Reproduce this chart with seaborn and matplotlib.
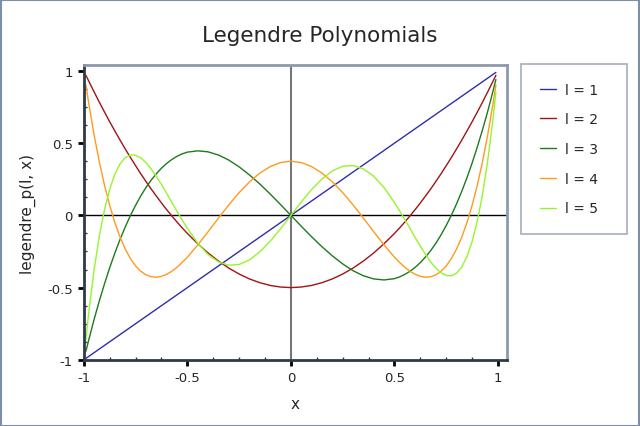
import numpy as np
import pandas as pd
import seaborn as sns
import matplotlib.pyplot as plt
from matplotlib.patches import Rectangle
from matplotlib.ticker import MultipleLocator

# sample points for x >= 0 (finer near the right edge)
x_pos = [0.0, 0.05, 0.1, 0.15, 0.2, 0.25, 0.3, 0.35, 0.4, 0.45, 0.5,
         0.525, 0.55, 0.575, 0.6, 0.625, 0.65, 0.675, 0.7, 0.725, 0.75,
         0.775, 0.8, 0.825, 0.85, 0.875, 0.9, 0.925, 0.95, 0.975, 0.99]
p2_pos = [-0.5, -0.496, -0.485, -0.466, -0.44, -0.406, -0.365, -0.316, -0.26, -0.196, -0.125,
          -0.087, -0.046, -0.004, 0.04, 0.086, 0.134, 0.183, 0.235, 0.288, 0.344,
          0.401, 0.46, 0.521, 0.584, 0.648, 0.715, 0.783, 0.854, 0.926, 0.970]
p3_pos = [0.0, -0.075, -0.148, -0.217, -0.28, -0.336, -0.383, -0.418, -0.44, -0.447, -0.438,
          -0.426, -0.409, -0.387, -0.36, -0.327, -0.288, -0.244, -0.193, -0.135, -0.070,
          0.001, 0.08, 0.166, 0.260, 0.362, 0.473, 0.591, 0.718, 0.855, 0.941]
p4_pos = [0.375, 0.366, 0.338, 0.293, 0.232, 0.158, 0.073, -0.019, -0.113, -0.205, -0.289,
          -0.326, -0.359, -0.387, -0.408, -0.422, -0.428, -0.425, -0.412, -0.387, -0.350,
          -0.299, -0.233, -0.151, -0.051, 0.069, 0.208, 0.369, 0.554, 0.764, 0.902]
p5_pos = [0.0, 0.093, 0.179, 0.252, 0.308, 0.340, 0.345, 0.322, 0.271, 0.192, 0.090,
          0.032, -0.028, -0.090, -0.153, -0.213, -0.270, -0.322, -0.365, -0.398, -0.416,
          -0.418, -0.400, -0.357, -0.286, -0.182, -0.041, 0.142, 0.373, 0.657, 0.855]

labels = ["l = 1", "l = 2", "l = 3", "l = 4", "l = 5"]
colors = ["#2e2eaa", "#a01414", "#1e7a1e", "#ff9a1e", "#96f52a"]

# even polys mirror, odd polys flip sign
x_neg = [-v for v in x_pos[::-1]]
xs = x_neg[:-1] + x_pos
def full(vals, odd):
    left = [(-v if odd else v) for v in vals[::-1]]
    return left[:-1] + vals

series = {
    "l = 1": full(x_pos, True),
    "l = 2": full(p2_pos, False),
    "l = 3": full(p3_pos, True),
    "l = 4": full(p4_pos, False),
    "l = 5": full(p5_pos, True),
}
df = pd.concat([pd.DataFrame({"x": xs, "y": v, "l": k}) for k, v in series.items()])

sns.set_style("white")
plt.rcParams['font.family'] = ['DejaVu Sans']

fig = plt.figure(figsize=(6.4, 4.27), dpi=100)
ax = fig.add_axes([0.131, 0.155, 0.661, 0.69])

sns.lineplot(data=df, x="x", y="y", hue="l", palette=colors, hue_order=labels,
             ax=ax, linewidth=1.0, sort=False, estimator=None, legend=True)

ax.axhline(0, color="black", lw=1.0, zorder=1)
ax.axvline(0, color="#777777", lw=1.5, zorder=1)

ax.set_xlim(-1, 1.043)
ax.set_ylim(-1, 1.04)
ax.set_xticks([-1, -0.5, 0, 0.5, 1])
ax.set_xticklabels(["-1", "-0.5", "0", "0.5", "1"])
ax.set_yticks([-1, -0.5, 0, 0.5, 1])
ax.set_yticklabels(["-1", "-0.5", "0", "0.5", "1"])
ax.xaxis.set_minor_locator(MultipleLocator(0.125))
ax.yaxis.set_minor_locator(MultipleLocator(0.125))
ax.tick_params(which="major", direction="out", length=4, width=2, color="black",
               labelsize=9.5, pad=4, bottom=True, left=True)
ax.tick_params(which="minor", direction="in", length=2, width=1, color="#333333",
               bottom=True, left=True)

for s in ["left", "bottom"]:
    ax.spines[s].set_color("#2f3a48")
    ax.spines[s].set_linewidth(2)
for s in ["top", "right"]:
    ax.spines[s].set_color("#8c9aab")
    ax.spines[s].set_linewidth(2)

ax.set_xlabel("x", fontsize=11, labelpad=9)
ax.set_ylabel("legendre_p(l, x)", fontsize=11, labelpad=8)
fig.suptitle("Legendre Polynomials", fontsize=15.5, y=0.938)

handles, lbls = ax.get_legend_handles_labels()
ax.get_legend().remove()
leg = fig.legend(handles, lbls, loc="upper left",
                 bbox_to_anchor=(0.814, 0.461, 0.166, 0.387), mode="expand",
                 fontsize=10, frameon=True, fancybox=False, handlelength=1.2,
                 labelspacing=1.13, borderpad=1.35, handletextpad=0.6,
                 borderaxespad=0)
leg.get_frame().set_edgecolor("#8c9aab")
leg.get_frame().set_linewidth(1.2)
for h in leg.get_lines():
    h.set_linewidth(1.0)

fig.patches.append(Rectangle((0.001, 0.001), 0.998, 0.997, transform=fig.transFigure,
                             fill=False, edgecolor="#7d8fa8", lw=1.5))

fig.savefig("out.png", dpi=100)
